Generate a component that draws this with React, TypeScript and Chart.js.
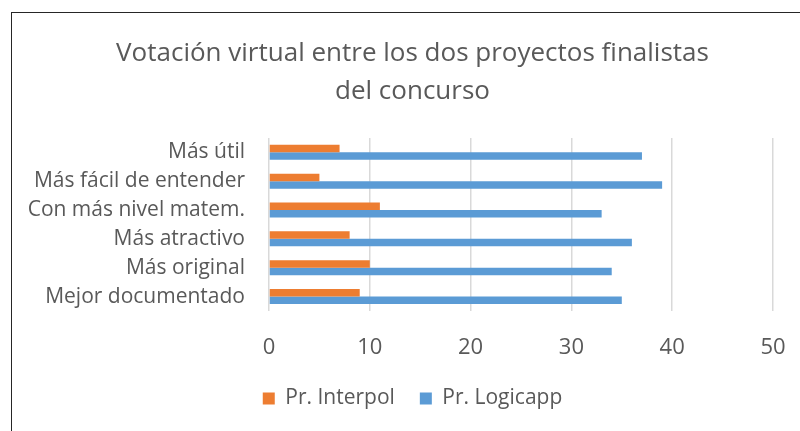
import React, { useEffect, useRef } from "react";
import { Chart, registerables } from "chart.js";

Chart.register(...registerables);

const categories = [
  "Más útil",
  "Más fácil de entender",
  "Con más nivel matem.",
  "Más atractivo",
  "Más original",
  "Mejor documentado",
];
const interpolValues = [7, 5, 11, 8, 10, 9];
const logicappValues = [37, 39, 33, 36, 34, 35];
const xTicks = [0, 10, 20, 30, 40, 50];
const titleLines = ["Votación virtual entre los dos proyectos finalistas", "del concurso"];

const FONT = "'Open Sans', sans-serif";
const TEXT = "#595959";
const PAD_LEFT = 52;

export default function App() {
  const ref = useRef<HTMLCanvasElement | null>(null);
  useEffect(() => {
    if (!ref.current) return;
    const chart = new Chart(ref.current, {
      type: "bar",
      data: {
        labels: categories,
        datasets: [
          {
            label: "Pr. Interpol",
            data: interpolValues,
            backgroundColor: "#ED7D31",
            borderWidth: 0,
            categoryPercentage: 0.52,
            barPercentage: 1,
          },
          {
            label: "Pr. Logicapp",
            data: logicappValues,
            backgroundColor: "#5B9BD5",
            borderWidth: 0,
            categoryPercentage: 0.52,
            barPercentage: 1,
          },
        ],
      },
      options: {
        indexAxis: "y",
        responsive: false,
        animation: false,
        layout: { padding: { left: PAD_LEFT, right: 27, top: 0, bottom: 12 } },
        plugins: {
          title: {
            display: true,
            text: titleLines,
            color: TEXT,
            font: { family: FONT, size: 26, weight: "normal", lineHeight: 1.44 },
            padding: { top: 35, bottom: 28 },
          },
          legend: {
            position: "bottom",
            labels: {
              boxWidth: 12,
              boxHeight: 12,
              color: TEXT,
              font: { family: FONT, size: 21 },
              padding: 25,
            },
          },
          tooltip: { enabled: false },
        },
        scales: {
          x: {
            min: 0,
            max: 50,
            afterBuildTicks: (scale: any) => {
              scale.ticks = xTicks.map((v) => ({ value: v }));
            },
            afterFit: (scale: any) => {
              scale.height = 52;
              scale.paddingLeft = 0;
              scale.paddingRight = 0;
            },
            grid: { color: "#D9D9D9", lineWidth: 1.5, drawTicks: false },
            border: { display: false },
            ticks: {
              color: TEXT,
              font: { family: FONT, size: 22 },
              padding: 24,
            },
          },
          y: {
            afterFit: (scale: any) => {
              scale.width = 269 - PAD_LEFT;
              scale._computeLabelArea = () => undefined;
            },
            grid: { display: false, drawTicks: false },
            border: { display: false },
            ticks: {
              color: TEXT,
              font: { family: FONT, size: 21 },
              padding: 24,
            },
          },
        },
      },
    });
    return () => chart.destroy();
  }, []);

  return (
    <div style={{ position: "fixed", left: 0, top: 0, width: 800, height: 431, background: "#fff" }}>
      <div
        style={{
          position: "absolute",
          left: 11,
          top: 11.5,
          width: 800,
          height: 431,
          borderLeft: "1.5px solid #262626",
          borderTop: "1.5px solid #262626",
        }}
      />
      <canvas ref={ref} width={800} height={431} style={{ position: "absolute", left: 0, top: 0 }} />
    </div>
  );
}
